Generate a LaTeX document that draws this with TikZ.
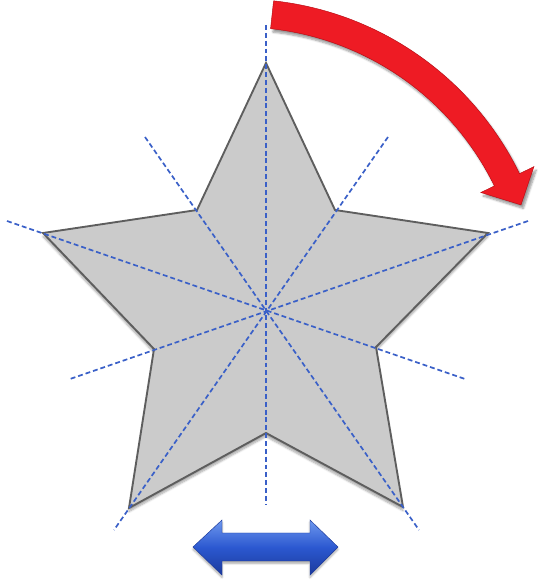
\documentclass[tikz,border=0pt]{standalone}
\usepackage{tikz}
\usetikzlibrary{shadows.blur}
\definecolor{starfill}{HTML}{CBCBCB}
\definecolor{staredge}{HTML}{5E5E5E}
\definecolor{axisblue}{HTML}{3A60C8}
\definecolor{turnred}{HTML}{EE1B24}
\definecolor{turnreddark}{HTML}{B80C14}
\definecolor{flipblue}{HTML}{2B58D0}
\definecolor{flipbluelight}{HTML}{6E98EE}
\definecolor{flipbluedark}{HTML}{1C3A9C}
\tikzset{
  starbody/.style={fill=starfill, draw=staredge, line width=1.6pt, line join=miter,
    blur shadow={shadow xshift=0pt, shadow yshift=-3pt, shadow opacity=35, shadow blur steps=6}},
  mirror/.style={draw=axisblue, line width=1.45pt, dash pattern=on 4.2pt off 2.5pt},
  % the turning arrow
  turn/.style={fill=turnred, draw=turnreddark, line width=0.4pt,
    blur shadow={shadow xshift=2pt, shadow yshift=-3pt, shadow opacity=40, shadow blur steps=6}},
  % the flipping arrow
  flip/.style={top color=flipbluelight, bottom color=flipbluedark, middle color=flipblue,
    draw=flipbluedark, line width=0.4pt,
    blur shadow={shadow xshift=0pt, shadow yshift=-2pt, shadow opacity=35, shadow blur steps=5}},
}

\begin{document}
\begin{tikzpicture}[x=0.03cm,y=0.03cm]
  \useasboundingbox (0,0) rectangle (538,581);
  % star corners
  \coordinate (top) at (266,518);
  \coordinate (itr) at (335,371);
  \coordinate (right) at (488,348);
  \coordinate (ibr) at (376,234);
  \coordinate (br) at (403,74);
  \coordinate (ibot) at (266,148);
  \coordinate (bl) at (129,73);
  \coordinate (ibl) at (154,232);
  \coordinate (left) at (43,348);
  \coordinate (itl) at (197,371);
  \draw[starbody] (top) -- (itr) -- (right) -- (ibr) -- (br) -- (ibot)
    -- (bl) -- (ibl) -- (left) -- (itl) -- cycle;
  % mirror lines, each through a corner and the centre
  \draw[mirror] (266,556) -- (266,76);
  \draw[mirror] (7,360) -- (465,202);
  \draw[mirror] (528,360) -- (70,202);
  \draw[mirror] (145,444) -- (419,51);
  \draw[mirror] (388,444) -- (114,51);
  % rotation arrow, arc about (240,271)
  \begin{scope}[shift={(240,271)}]
    \path[turn] (83.8:311) arc[start angle=83.8, end angle=26, radius=311]
      -- (26:327) -- (20.5:300) -- (26:268) -- (26:283)
      arc[start angle=26, end angle=83.8, radius=283] -- cycle;
  \end{scope}
  % reflection arrow
  \path[flip] (193,34) -- (222,61) -- (222,48) -- (310,48) -- (310,61) -- (338,34)
    -- (310,6) -- (310,20) -- (222,20) -- (222,6) -- cycle;
\end{tikzpicture}
\end{document}
